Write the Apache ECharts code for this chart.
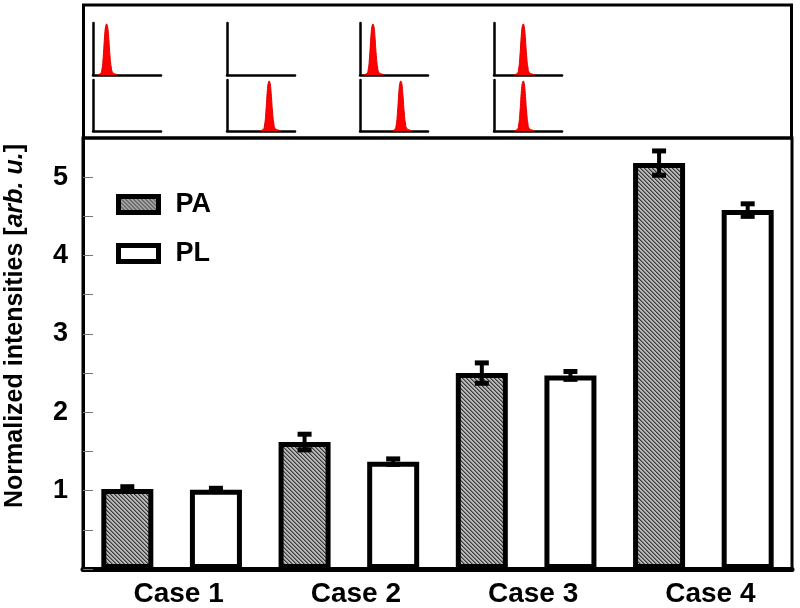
<!DOCTYPE html>
<html><head><meta charset="utf-8">
<script src="https://cdn.jsdelivr.net/npm/echarts@6/dist/echarts.min.js"></script>
<style>html,body{margin:0;padding:0;background:#fff}#c{width:800px;height:608px}</style>
</head><body><div id="c"></div>
<script>
// ---- data ----
const categories = ['Case 1', 'Case 2', 'Case 3', 'Case 4'];
const seriesNames = ['PA', 'PL'];
const paValues = [1.02, 1.62, 2.50, 5.18];
const paErrors = [0.03, 0.10, 0.13, 0.155];
const plValues = [1.01, 1.37, 2.47, 4.58];
const plErrors = [0.02, 0.035, 0.05, 0.08];
const yTickLabels = ['1', '2', '3', '4', '5'];
// inset spectra: peak shape [offset, relative height] and peak position per inset (null = no peak)
const peakProfile = [[-14,0],[-9,0.03],[-7,0.1],[-5,0.35],[-3,0.75],[-1.5,0.95],[0,1],[1.5,0.95],[3,0.75],[5,0.38],[7,0.14],[9,0.05],[13,0.02],[17,0]];
const insetTopPeaks = [20, null, 19, 43];
const insetBottomPeaks = [null, 62, 60, 43];

// ---- chart ----
const FONT = 'Liberation Sans, Arial, Helvetica, sans-serif';
const chart = echarts.init(document.getElementById('c'), null, {renderer: 'canvas'});

const pat = document.createElement('canvas');
pat.width = 4; pat.height = 4;
const g = pat.getContext('2d');
g.fillStyle = '#b8b8b8'; g.fillRect(0, 0, 4, 4);
g.fillStyle = '#3a3a3a'; for (let i = 0; i < 4; i++) g.fillRect(i, i, 1, 1);
g.fillStyle = '#787878'; for (let i = 0; i < 4; i++) g.fillRect((i + 1) % 4, i, 1, 1);
const hatch = {image: pat, repeat: 'repeat'};

const BAR_W = 52, BAR_GAP = 0.704;
const barOffset = (BAR_W + BAR_W * BAR_GAP) / 2;

function errRender(sign) {
  return function (params, api) {
    const idx = api.value(0), v = api.value(1), e = api.value(2);
    const x = api.coord([idx, v])[0] + sign * barOffset;
    const yt = api.coord([idx, v + e])[1];
    const yb = api.coord([idx, v - e])[1];
    const cap = 7;
    return {type: 'group', children: [
      {type: 'line', shape: {x1: x, y1: yt, x2: x, y2: yb}, style: {stroke: '#000', lineWidth: 4}},
      {type: 'line', shape: {x1: x - cap, y1: yt, x2: x + cap, y2: yt}, style: {stroke: '#000', lineWidth: 5}},
      {type: 'line', shape: {x1: x - cap, y1: yb, x2: x + cap, y2: yb}, style: {stroke: '#000', lineWidth: 5}}
    ]};
  };
}

const grids = [{left: 83, right: 8, top: 138, bottom: 39, show: true, borderColor: '#000', borderWidth: 3}];
const xAxes = [{
  type: 'category', gridIndex: 0, data: categories, boundaryGap: true,
  axisLine: {lineStyle: {color: '#000', width: 5}}, axisTick: {show: false},
  axisLabel: {color: '#000', fontFamily: FONT, fontWeight: 'bold', fontSize: 28, margin: 11, padding: [0, 0, 0, 14]}
}];
const yAxes = [{
  type: 'value', gridIndex: 0, min: 0, max: 5.5, interval: 0.5,
  axisLine: {show: true, lineStyle: {color: '#000', width: 3}},
  axisTick: {show: true, inside: true, length: 10, lineStyle: {color: '#777', width: 1}},
  splitLine: {show: false},
  axisLabel: {color: '#000', fontFamily: FONT, fontWeight: 'bold', fontSize: 27, margin: 15,
    formatter: v => yTickLabels.includes(String(v)) ? String(v) : ''}
}];
const series = [
  {name: seriesNames[0], type: 'bar', data: paValues, barWidth: BAR_W, barGap: (BAR_GAP * 100) + '%',
   itemStyle: {color: hatch, borderColor: '#000', borderWidth: 5}, z: 2},
  {name: seriesNames[1], type: 'bar', data: plValues, barWidth: BAR_W,
   itemStyle: {color: '#fff', borderColor: '#000', borderWidth: 5}, z: 2},
  {type: 'custom', renderItem: errRender(-1), data: paValues.map((v, i) => [i, v, paErrors[i]]),
   encode: {x: 0, y: 1}, z: 5, silent: true},
  {type: 'custom', renderItem: errRender(1), data: plValues.map((v, i) => [i, v, plErrors[i]]),
   encode: {x: 0, y: 1}, z: 5, silent: true}
];

const insetLeft = [93, 227, 360, 494];
const insetRows = [{top: 23, height: 52, peaks: insetTopPeaks}, {top: 80, height: 51, peaks: insetBottomPeaks}];
let k = 1;
insetRows.forEach(row => {
  insetLeft.forEach((left, c) => {
    grids.push({left: left, top: row.top, width: 68, height: row.height});
    xAxes.push({type: 'value', gridIndex: k, min: 0, max: 100,
      axisLine: {show: true, onZero: false, lineStyle: {color: '#000', width: 2.5}},
      axisTick: {show: false}, axisLabel: {show: false}, splitLine: {show: false}});
    yAxes.push({type: 'value', gridIndex: k, min: 0, max: 1.02,
      axisLine: {show: true, onZero: false, lineStyle: {color: '#000', width: 2.5}},
      axisTick: {show: false}, axisLabel: {show: false}, splitLine: {show: false}});
    const p = row.peaks[c];
    if (p !== null) {
      series.push({type: 'line', xAxisIndex: k, yAxisIndex: k, smooth: true, symbol: 'none',
        data: peakProfile.map(([dx, h]) => [p + dx, h]),
        lineStyle: {color: '#e00000', width: 1}, areaStyle: {color: '#ff0000', opacity: 1}, z: 1});
    }
    k++;
  });
});

chart.setOption({
  animation: false,
  backgroundColor: '#fff',
  grid: grids, xAxis: xAxes, yAxis: yAxes, series: series,
  legend: {
    data: seriesNames, orient: 'vertical', left: 111, top: 186,
    itemWidth: 40, itemHeight: 16, itemGap: 22, icon: 'rect',
    itemStyle: {borderColor: '#000', borderWidth: 5},
    textStyle: {color: '#000', fontFamily: FONT, fontWeight: 'bold', fontSize: 27, padding: [0, 0, 0, 12]}
  },
  graphic: [
    {type: 'rect', shape: {x: 83.5, y: 5, width: 708, height: 133}, style: {fill: 'none', stroke: '#000', lineWidth: 3}, z: 10},
    {type: 'text', x: 15, y: 326, rotation: Math.PI / 2,
     style: {text: '{b|Normalized intensities [}{i|arb. u.}{b|]}',
       rich: {b: {fontFamily: FONT, fontWeight: 'bold', fontSize: 25, fill: '#000'},
              i: {fontFamily: FONT, fontWeight: 'bold', fontStyle: 'italic', fontSize: 25, fill: '#000'}},
       align: 'center', verticalAlign: 'middle', fill: '#000'}}
  ]
});
</script></body></html>
